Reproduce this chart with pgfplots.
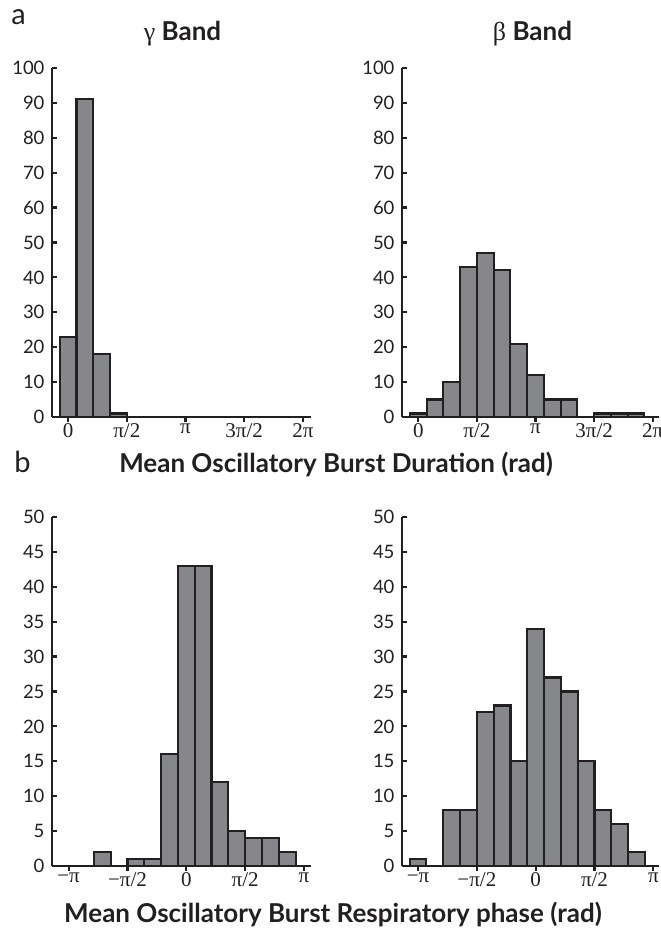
\documentclass[border=0pt]{standalone}
\usepackage{fontspec}
\usepackage{pgfplots}
\pgfplotsset{compat=1.18}
\setmainfont{Lato}
\newfontfamily\grk{Liberation Serif}
\definecolor{barfill}{RGB}{134,135,139}
\definecolor{edge}{RGB}{35,31,32}

\pgfplotsset{
  bars/.style={fill=barfill, draw=edge, line width=2.1pt},
  histo/.style={
    scale only axis, anchor=south west,
    height=349pt,
    axis x line=bottom, axis y line=left,
    axis line style={-, line width=2.5pt, edge},
    ymin=0,
    xtick align=outside, ytick align=inside,
    major tick length=5pt,
    tick style={line width=2.2pt, edge},
    /pgf/number format/assume math mode=true,
    yticklabel style={font=\fontsize{18.5}{18.5}\selectfont, text=edge, xshift=-4pt},
    xticklabel style={font=\grk\fontsize{21}{21}\selectfont, text=edge, yshift=2pt},
    ybar, bar width=0.4488,
  },
  top/.style={histo, ymax=100, ytick={0,10,...,100},
    xtick={0,1.5708,3.14159,4.71239,6.28319},
    xticklabels={0,π/2,π,3π/2,2π}},
  bot/.style={histo, ymax=50, ytick={0,5,...,50},
    xtick={-3.14159,-1.5708,0,1.5708,3.14159},
    xticklabels={−π,−π/2,0,π/2,π}},
}

\begin{document}
\begin{tikzpicture}
\path[use as bounding box] (0,0) rectangle (661pt,929pt);

% gamma, duration
\begin{axis}[top, at={(52pt,512pt)}, width=259pt, xmin=-0.43, xmax=6.5]
\addplot[bars] coordinates {(0,23)(0.4488,91)(0.8976,18)(1.3464,1)};
\end{axis}

% beta, duration
\begin{axis}[top, at={(402pt,512pt)}, width=257pt, xmin=-0.437, xmax=6.45]
\addplot[bars] coordinates {(0,1)(0.4488,5)(0.8976,10)(1.3464,43)(1.7952,47)(2.2440,42)(2.6928,21)
  (3.1416,12)(3.5904,5)(4.0392,5)(4.9368,1)(5.3856,1)(5.8344,1)};
\end{axis}

% gamma, phase
\begin{axis}[bot, at={(52pt,63pt)}, width=259pt, xmin=-3.585, xmax=3.328]
\addplot[bars] coordinates {(-2.2440,2)(-1.3464,1)(-0.8976,1)(-0.4488,16)(0,43)(0.4488,43)
  (0.8976,12)(1.3464,5)(1.7952,4)(2.2440,4)(2.6928,2)};
\end{axis}

% beta, phase
\begin{axis}[bot, at={(402pt,63pt)}, width=257pt, xmin=-3.57, xmax=3.294]
\addplot[bars] coordinates {(-3.1416,1)(-2.2440,8)(-1.7952,8)(-1.3464,22)(-0.8976,23)(-0.4488,15)
  (0,34)(0.4488,27)(0.8976,25)(1.3464,15)(1.7952,8)(2.2440,6)(2.6928,2)};
\end{axis}

\node[anchor=base, font=\fontsize{29}{29}\selectfont, text=edge] at (18.5pt,904pt) {a};
\node[anchor=base, font=\fontsize{29}{29}\selectfont, text=edge] at (22.5pt,456pt) {b};
\node[anchor=base, font=\fontsize{26}{26}\selectfont\bfseries, text=edge] at (182.5pt,888pt) {{\grk\mdseries γ} Band};
\node[anchor=base, font=\fontsize{26}{26}\selectfont\bfseries, text=edge] at (532.5pt,888pt) {{\grk\mdseries β} Band};
\node[anchor=base, font=\fontsize{26}{26}\selectfont\bfseries, text=edge] at (336pt,456pt) {Mean Oscillatory Burst Duration (rad)};
\node[anchor=base, font=\fontsize{26}{26}\selectfont\bfseries, text=edge] at (333pt,6.5pt) {Mean Oscillatory Burst Respiratory phase (rad)};
\end{tikzpicture}
\end{document}
